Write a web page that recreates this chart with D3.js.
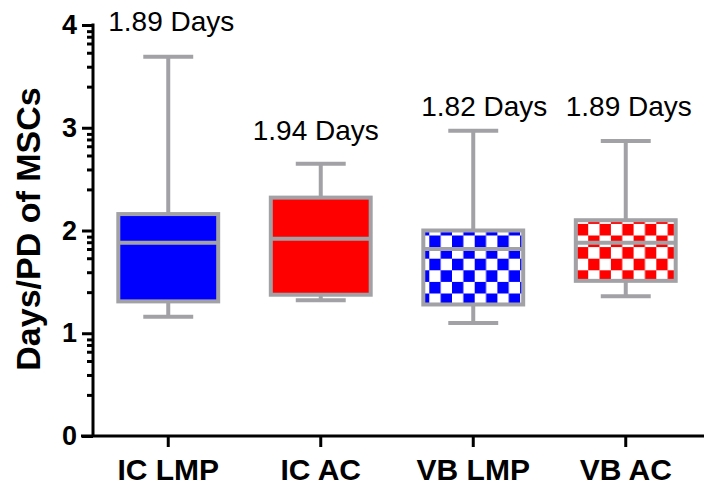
<!DOCTYPE html>
<html>
<head>
<meta charset="utf-8">
<script src="https://cdn.jsdelivr.net/npm/d3@7"></script>
<style>
  body { margin: 0; background: #fff; }
  text { font-family: Arial, "Liberation Sans", sans-serif; }
</style>
</head>
<body>
<div class="chart"></div>
<script>
// data
const categories = ["IC LMP", "IC AC", "VB LMP", "VB AC"];
const whiskerLow = [1.16, 1.32, 1.10, 1.36];
const q1 = [1.31, 1.375, 1.28, 1.51];
const median = [1.88, 1.92, 1.82, 1.88];
const q3 = [2.16, 2.32, 2.00, 2.10];
const whiskerHigh = [3.69, 2.65, 2.97, 2.87];
const labels = ["1.89 Days", "1.94 Days", "1.82 Days", "1.89 Days"];
const yTicks = [0, 1, 2, 3, 4];
const minorSteps = [0.40, 0.594, 0.73, 0.82, 0.886, 0.94];

// where the day labels sit (axis units) and their sideways nudge
const labelLevel = [3.94, 2.88, 3.11, 3.11];
const labelNudge = [3, -5, 11, 3];

var w = 704;
var h = 488;
const grey = "#a2a2a6";

const svg = d3.select(".chart")
  .append("svg")
  .attr("width", w)
  .attr("height", h);

const y = d3.scaleLinear().domain([0, 4]).range([436, 25]);
const x = d3.scaleBand().domain(categories).range([92, 702]).padding(0);

// checker fills for the VB groups
const defs = svg.append("defs");
function checker(id, color) {
  const p = defs.append("pattern")
    .attr("id", id)
    .attr("patternUnits", "userSpaceOnUse")
    .attr("x", 429.3).attr("y", 235.5)
    .attr("width", 22.7).attr("height", 23.2);
  p.append("rect").attr("width", 22.7).attr("height", 23.2).attr("fill", "#fff");
  p.append("rect").attr("width", 11.35).attr("height", 11.6).attr("fill", color);
  p.append("rect").attr("x", 11.35).attr("y", 11.6).attr("width", 11.35).attr("height", 11.6).attr("fill", color);
}
checker("chkBlue", "#0000ff");
checker("chkRed", "#ff0000");
const fills = ["#0000ff", "#ff0000", "url(#chkBlue)", "url(#chkRed)"];

const boxes = categories.map((c, i) => ({
  cat: c, lo: whiskerLow[i], q1: q1[i], med: median[i], q3: q3[i], hi: whiskerHigh[i],
  fill: fills[i], label: labels[i], level: labelLevel[i], nudge: labelNudge[i]
}));

const boxW = x.bandwidth() * 0.655;
const capW = boxW / 2;
const cx = d => x(d.cat) + x.bandwidth() / 2;

const g = svg.append("g");
const grp = g.selectAll("g.box")
  .data(boxes)
  .enter()
  .append("g")
  .attr("class", "box");

// whiskers
grp.append("line")
  .attr("x1", cx).attr("x2", cx)
  .attr("y1", d => y(d.hi)).attr("y2", d => y(d.q3))
  .attr("stroke", grey).attr("stroke-width", 4);
grp.append("line")
  .attr("x1", cx).attr("x2", cx)
  .attr("y1", d => y(d.q1)).attr("y2", d => y(d.lo))
  .attr("stroke", grey).attr("stroke-width", 4);
grp.append("line")
  .attr("x1", d => cx(d) - capW / 2).attr("x2", d => cx(d) + capW / 2)
  .attr("y1", d => y(d.hi)).attr("y2", d => y(d.hi))
  .attr("stroke", grey).attr("stroke-width", 4);
grp.append("line")
  .attr("x1", d => cx(d) - capW / 2).attr("x2", d => cx(d) + capW / 2)
  .attr("y1", d => y(d.lo)).attr("y2", d => y(d.lo))
  .attr("stroke", grey).attr("stroke-width", 4);

// boxes
grp.append("rect")
  .attr("x", d => cx(d) - boxW / 2)
  .attr("y", d => y(d.q3))
  .attr("width", boxW)
  .attr("height", d => y(d.q1) - y(d.q3))
  .attr("fill", d => d.fill)
  .attr("stroke", grey)
  .attr("stroke-width", 4);

// medians
grp.append("line")
  .attr("x1", d => cx(d) - boxW / 2).attr("x2", d => cx(d) + boxW / 2)
  .attr("y1", d => y(d.med)).attr("y2", d => y(d.med))
  .attr("stroke", grey).attr("stroke-width", 4);

// day labels
grp.append("text")
  .attr("x", d => cx(d) + d.nudge)
  .attr("y", d => y(d.level))
  .attr("text-anchor", "middle")
  .attr("font-size", 28)
  .attr("fill", "#000")
  .text(d => d.label);

// y axis, major and minor ticks
const minorVals = [];
for (let k = 0; k < 4; k++) minorSteps.forEach(s => minorVals.push(k + s));

const yMinor = svg.append("g")
  .attr("transform", "translate(93,0)")
  .call(d3.axisLeft(y).tickValues(minorVals).tickSize(6).tickFormat(""));
yMinor.select(".domain").remove();
yMinor.selectAll("line").attr("stroke", "#000").attr("stroke-width", 3);

const yAxis = svg.append("g")
  .attr("transform", "translate(93,0)")
  .call(d3.axisLeft(y).tickValues(yTicks).tickSize(11).tickSizeOuter(0).tickPadding(5).tickFormat(d3.format("d")));
yAxis.select(".domain").attr("stroke", "#000").attr("stroke-width", 3)
  .attr("d", `M0,${y(4) - 1.5}V${y(0)}`);
yAxis.selectAll("line").attr("stroke", "#000").attr("stroke-width", 3);
yAxis.selectAll("text")
  .attr("font-size", 27).attr("font-weight", "bold").attr("fill", "#000")
  .attr("font-family", 'Arial, "Liberation Sans", sans-serif');

// x axis
const xAxis = svg.append("g")
  .attr("transform", "translate(0,436)")
  .call(d3.axisBottom(x).tickSize(11).tickSizeOuter(0).tickPadding(12));
xAxis.select(".domain").remove();
xAxis.append("line")
  .attr("x1", 81).attr("x2", 704)
  .attr("stroke", "#000").attr("stroke-width", 3);
xAxis.selectAll(".tick line").attr("stroke", "#000").attr("stroke-width", 3);
xAxis.selectAll("text")
  .attr("font-size", 30).attr("font-weight", "bold").attr("fill", "#000")
  .attr("font-family", 'Arial, "Liberation Sans", sans-serif');

// y title
svg.append("text")
  .attr("transform", "translate(40,229) rotate(-90)")
  .attr("text-anchor", "middle")
  .attr("font-size", 34)
  .attr("font-weight", "bold")
  .text("Days/PD of MSCs");
</script>
</body>
</html>
